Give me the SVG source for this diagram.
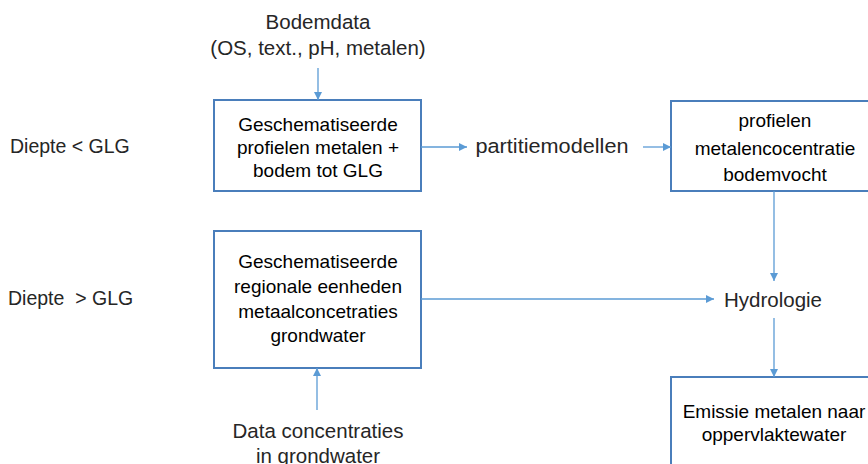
<svg xmlns="http://www.w3.org/2000/svg" width="868" height="464" viewBox="0 0 868 464">
<defs>
<marker id="ah" viewBox="0 0 10 10" refX="10" refY="5" markerWidth="8" markerHeight="8" markerUnits="userSpaceOnUse" orient="auto">
<path d="M0,0 L10,5 L0,10 z" fill="#5B9BD5"/>
</marker>
<style>
.box{fill:#fff;stroke:#4A7EBB;stroke-width:2}
.bt{font-family:"Liberation Sans",Arial,sans-serif;font-size:19px;fill:#000;text-anchor:middle}
.ot{font-family:"Liberation Sans",Arial,sans-serif;font-size:20.5px;fill:#262626;text-anchor:middle}
.lt{font-family:"Liberation Sans",Arial,sans-serif;font-size:19.5px;fill:#262626}
.c{stroke:#5B9BD5;stroke-width:1.3;fill:none;marker-end:url(#ah)}
</style>
</defs>
<rect width="868" height="464" fill="#fff"/>
<g id="label-diepte-lt"><text class="lt" x="10" y="153">Diepte &lt; GLG</text></g>
<g id="label-diepte-gt"><text class="lt" x="8" y="305" xml:space="preserve">Diepte  &gt; GLG</text></g>
<g id="bodemdata"><text class="ot" x="318" y="29">Bodemdata</text><text class="ot" x="318" y="55">(OS, text., pH, metalen)</text></g>
<g id="box1"><rect class="box" x="214" y="100" width="207" height="91"/>
<text class="bt" x="318" y="131">Geschematiseerde</text><text class="bt" x="318" y="154">profielen metalen +</text><text class="bt" x="318" y="177">bodem tot GLG</text></g>
<g id="partitie"><text class="ot" x="552" y="153" textLength="153" lengthAdjust="spacingAndGlyphs">partitiemodellen</text></g>
<g id="box2"><rect class="box" x="671" y="101" width="210" height="90"/>
<text class="bt" x="775" y="127">profielen</text><text class="bt" x="775" y="155">metalencocentratie</text><text class="bt" x="775" y="181">bodemvocht</text></g>
<g id="box3"><rect class="box" x="214" y="231" width="207" height="137"/>
<text class="bt" x="318" y="268">Geschematiseerde</text><text class="bt" x="318" y="293">regionale eenheden</text><text class="bt" x="318" y="318">metaalconcetraties</text><text class="bt" x="318" y="342">grondwater</text></g>
<g id="hydrologie"><text class="ot" x="773" y="307">Hydrologie</text></g>
<g id="box4"><rect class="box" x="671" y="377" width="210" height="100"/>
<text class="bt" x="774" y="418">Emissie metalen naar</text><text class="bt" x="774" y="441">oppervlaktewater</text></g>
<g id="data"><text class="ot" x="318" y="438">Data concentraties</text><text class="ot" x="318" y="463">in grondwater</text></g>
<g id="connectors">
<line class="c" x1="318" y1="68" x2="318" y2="100"/>
<line class="c" x1="421" y1="147" x2="467" y2="147"/>
<line class="c" x1="643" y1="147" x2="671" y2="147"/>
<line class="c" x1="774" y1="191" x2="774" y2="281"/>
<line class="c" x1="421" y1="299" x2="714" y2="299"/>
<line class="c" x1="774" y1="318" x2="774" y2="377"/>
<line class="c" x1="317" y1="410" x2="317" y2="368"/>
</g>
</svg>
